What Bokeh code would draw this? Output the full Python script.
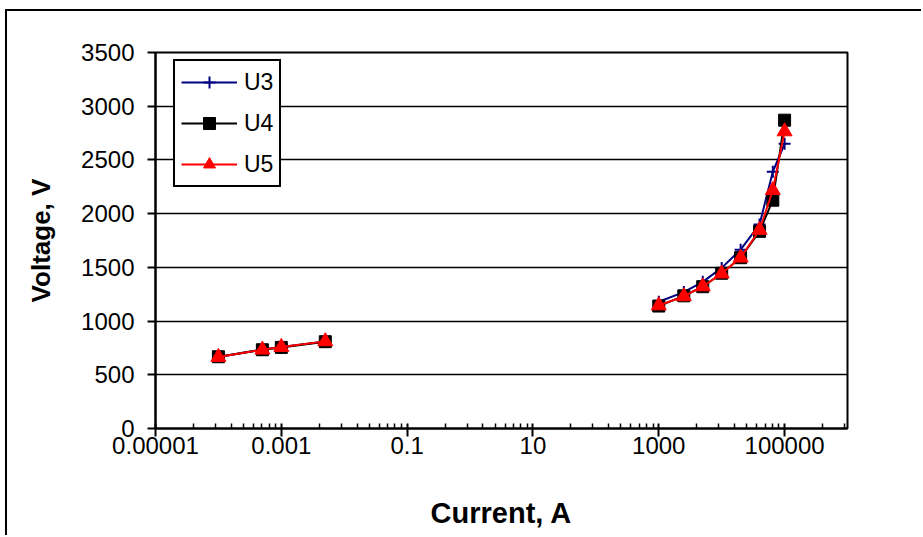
import math

from bokeh.embed import file_html
from bokeh.models import (ColumnDataSource, CustomJSTickFormatter, FixedTicker,
                          Legend, LegendItem, Range1d)
from bokeh.plotting import figure
from bokeh.resources import INLINE

# Test currents (A): low-current region and impulse-current region
current_low = [1e-4, 5e-4, 1e-3, 5e-3]
current_high = [1000, 2500, 5000, 10000, 20000, 40000, 65000, 100000]

# Residual voltage (V) per varistor sample
u3_low = [665, 735, 758, 810]
u4_low = [668, 733, 755, 808]
u5_low = [665, 733, 758, 811]

u3_high = [1180, 1270, 1365, 1495, 1665, 1900, 2390, 2650]
u4_high = [1140, 1235, 1320, 1445, 1590, 1835, 2125, 2870]
u5_high = [1145, 1230, 1322, 1442, 1590, 1848, 2218, 2765]

series_names = ["U3", "U4", "U5"]

# Axis ticks
x_tick_values = [1e-5, 1e-3, 1e-1, 10, 1000, 100000]
x_tick_labels = ["0.00001", "0.001", "0.1", "10", "1000", "100000"]
y_tick_values = [0, 500, 1000, 1500, 2000, 2500, 3000, 3500]

FONT = "Liberation Sans"

p = figure(
    width=916, height=526,
    x_axis_type="log",
    x_range=Range1d(1e-5, 1e6), y_range=Range1d(0, 3500),
    output_backend="svg", toolbar_location=None,
    min_border_left=148, min_border_right=76,
    min_border_top=41, min_border_bottom=109,
    background_fill_color="white", border_fill_color="white",
)
# outer chart-area frame (left and top edges are inside the window)
p.styles = {
    "margin-left": "5px", "margin-top": "9px",
    "border-left": "2px solid black", "border-top": "2px solid black",
}

p.outline_line_color = "black"
p.outline_line_width = 2

# grid: horizontal lines only
p.xgrid.visible = False
p.ygrid.ticker = FixedTicker(ticks=y_tick_values)
p.ygrid.grid_line_color = "black"
p.ygrid.grid_line_width = 1.5

# x axis (log, a labelled tick every two decades, minor ticks at k^2 steps)
minor = [v * k * k for v in x_tick_values for k in range(2, 10)]
p.xaxis.ticker = FixedTicker(ticks=x_tick_values, minor_ticks=minor)
p.xaxis.formatter = CustomJSTickFormatter(
    args=dict(vals=x_tick_values, labels=x_tick_labels),
    code="""
        let best = 0, bd = Infinity;
        for (let i = 0; i < vals.length; i++) {
            const d = Math.abs(Math.log10(tick) - Math.log10(vals[i]));
            if (d < bd) { bd = d; best = i; }
        }
        return labels[best];
    """,
)
p.xaxis.axis_label = "Current, A"
p.xaxis.major_tick_in = 5
p.xaxis.major_tick_out = 8
p.xaxis.minor_tick_in = 5
p.xaxis.minor_tick_out = 0
p.xaxis.minor_tick_line_width = 1.5
p.xaxis.major_label_standoff = 0
p.xaxis.axis_label_standoff = 40

# y axis
p.yaxis.ticker = FixedTicker(ticks=y_tick_values)
p.yaxis.axis_label = "Voltage, V"
p.yaxis.major_tick_in = 0
p.yaxis.major_tick_out = 8
p.yaxis.minor_tick_in = 0
p.yaxis.minor_tick_out = 0
p.yaxis.major_label_standoff = 13
p.yaxis.axis_label_standoff = 22

for ax in (p.xaxis, p.yaxis):
    ax.axis_line_color = "black"
    ax.axis_line_width = 2
    ax.major_tick_line_color = "black"
    ax.major_tick_line_width = 2
    ax.minor_tick_line_color = "black"
    ax.major_label_text_font = FONT
    ax.major_label_text_font_size = "24px"
    ax.major_label_text_color = "black"
    ax.axis_label_text_font = FONT
    ax.axis_label_text_font_style = "bold"
    ax.axis_label_text_color = "black"
p.xaxis.axis_label_text_font_size = "29px"
p.yaxis.axis_label_text_font_size = "26px"

styles = {
    "U3": dict(color="#000080", marker="cross", size=12, line_width=2),
    "U4": dict(color="black", marker="square", size=12, line_width=1),
    "U5": dict(color="#FF0000", marker="triangle", size=15, line_width=1),
}
lows = {"U3": u3_low, "U4": u4_low, "U5": u5_low}
highs = {"U3": u3_high, "U4": u4_high, "U5": u5_high}

items = []
for name in series_names:
    st = styles[name]
    # NaN between the two current regions breaks the line
    src = ColumnDataSource(dict(
        x=current_low + [math.nan] + current_high,
        y=lows[name] + [math.nan] + highs[name],
    ))
    ln = p.line("x", "y", source=src, line_color=st["color"], line_width=2)
    sc = p.scatter("x", "y", source=src, marker=st["marker"], size=st["size"],
                   fill_color=st["color"], line_color=st["color"],
                   line_width=st["line_width"])
    items.append(LegendItem(label=name, renderers=[ln, sc]))

legend = Legend(
    items=items, location=(18, 241), margin=0,
    border_line_color="black", border_line_width=2, border_line_alpha=1,
    background_fill_color="white", background_fill_alpha=1,
    label_text_font=FONT, label_text_font_size="23px",
    label_text_color="black",
    glyph_width=56, glyph_height=30, label_height=30,
    label_standoff=7, spacing=11, padding=6,
)
p.add_layout(legend)

open("out.html", "w").write(file_html(p, INLINE))
